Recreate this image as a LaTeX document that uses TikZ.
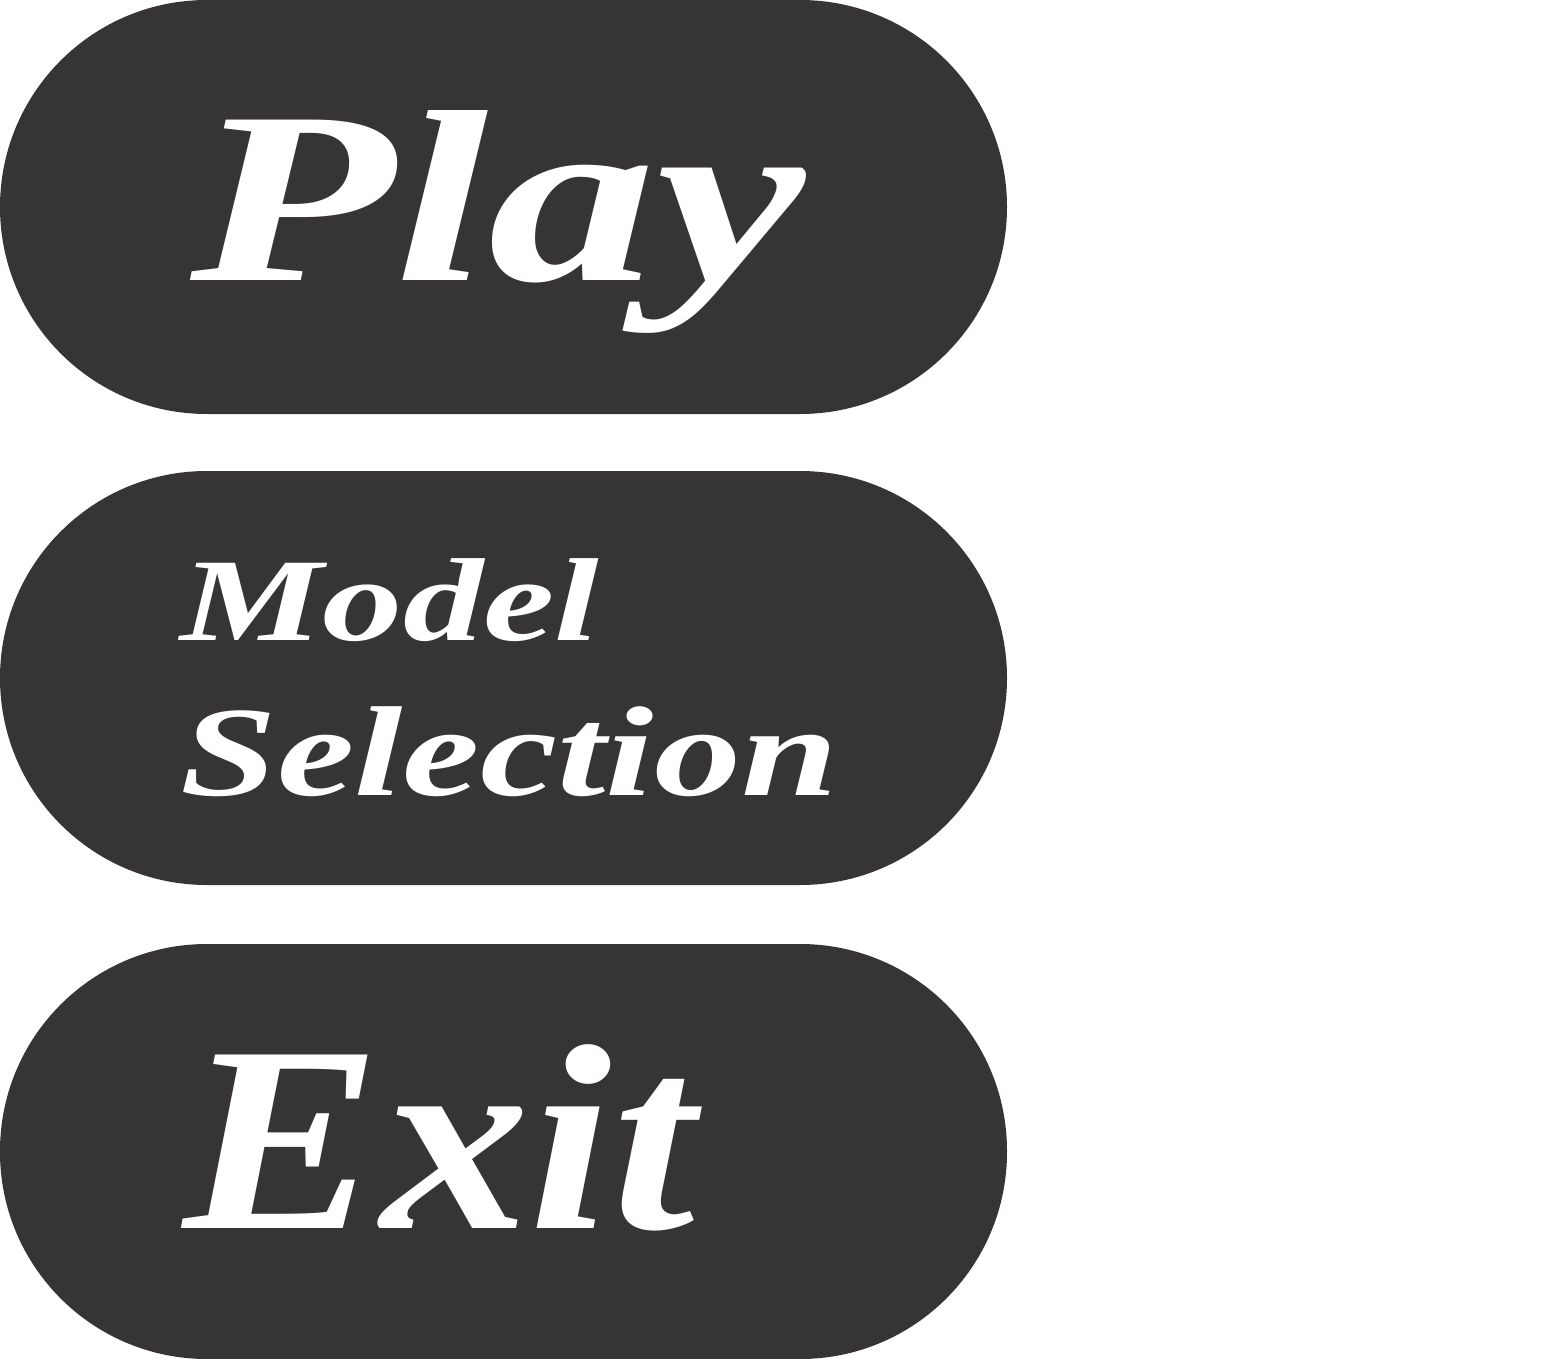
\documentclass[tikz,border=0pt]{standalone}
\usepackage{fontspec}
\setmainfont{Liberation Serif}
\definecolor{pill}{HTML}{363435}
\begin{document}
\begin{tikzpicture}[x=1pt,y=-1pt,
  pillbox/.style={fill=pill,rounded corners=206.9pt},
  lbl/.style={text=white,anchor=base west,inner sep=0pt,font=\bfseries\itshape}]
\useasboundingbox[fill=white] (0,0) rectangle (1553,1359);
\fill[pillbox] (0,0) rectangle (1007,414);
\fill[pillbox] (0,471) rectangle (1007,885);
\fill[pillbox] (0,944) rectangle (1007,1359);
\node[lbl,xscale=1.37] (play) at (190,280) {\fontsize{245}{245}\selectfont Play};
\node[lbl,xscale=1.36] (model) at (180,640) {\fontsize{118}{118}\selectfont Model};
\node[lbl,xscale=1.36] (sel) at (180,795) {\fontsize{128}{128}\selectfont Selection};
\node[lbl,xscale=1.12] (exit) at (183,1228) {\fontsize{265}{265}\selectfont Exit};
\end{tikzpicture}
\end{document}
